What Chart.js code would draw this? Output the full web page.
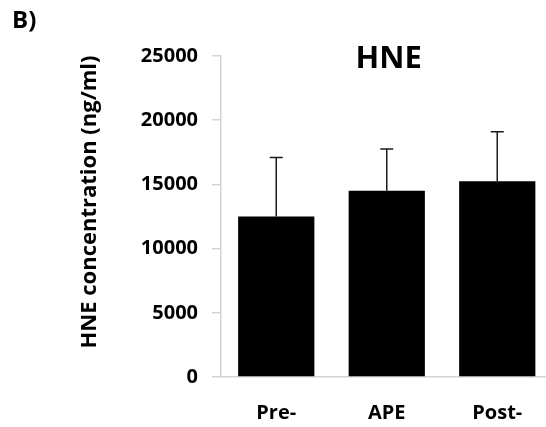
<!DOCTYPE html>
<html>
<head>
<meta charset="utf-8">
<script src="https://cdn.jsdelivr.net/npm/chart.js@4.4.1/dist/chart.umd.min.js"></script>
<style>
    html, body { margin: 0; padding: 0; background: #fff; overflow: hidden; }
    #wrap { width: 560px; height: 427px; }
</style>
</head>
<body>
<div id="wrap"><canvas id="chart" width="560" height="427"></canvas></div>
<script>
// Werte
const categories = ['Pre-', 'APE', 'Post-'];
const hneMean = [12500, 14500, 15250];
const hneSd = [4600, 3250, 3850];
const yTicks = [0, 5000, 10000, 15000, 20000, 25000];

const panelLabel = 'B)';
const chartTitle = 'HNE';
const yTitle = 'HNE concentration (ng/ml)';

const FONT = '"Open Sans", "DejaVu Sans", sans-serif';

// Fehlerbalken nur nach oben (Mittelwert + SD)
const errorBars = {
    id: 'errorBars',
    afterDatasetsDraw(chart) {
        const ctx = chart.ctx;
        const y = chart.scales.y;
        const meta = chart.getDatasetMeta(0);
        ctx.save();
        ctx.strokeStyle = '#1a1a1a';
        ctx.lineWidth = 1.5;
        meta.data.forEach((bar, i) => {
            const top = y.getPixelForValue(hneMean[i] + hneSd[i]);
            ctx.beginPath();
            ctx.moveTo(bar.x, bar.y);
            ctx.lineTo(bar.x, top);
            ctx.moveTo(bar.x - 6.5, top);
            ctx.lineTo(bar.x + 6.5, top);
            ctx.stroke();
        });
        ctx.restore();
    }
};

// Beschriftungen: Panel-Buchstabe, Titel, y-Achsentitel
const labels = {
    id: 'labels',
    afterDraw(chart) {
        const ctx = chart.ctx;
        const area = chart.chartArea;
        ctx.save();
        ctx.fillStyle = '#000';

        ctx.font = `bold 24px ${FONT}`;
        ctx.textAlign = 'left';
        ctx.textBaseline = 'alphabetic';
        ctx.fillText(panelLabel, 12, 28);

        ctx.font = `bold 31px ${FONT}`;
        ctx.textAlign = 'center';
        ctx.textBaseline = 'middle';
        ctx.fillText(chartTitle, (area.left + area.right) / 2 + 2, 59);

        ctx.translate(90, 202);
        ctx.rotate(-Math.PI / 2);
        ctx.font = `bold 22px ${FONT}`;
        ctx.fillText(yTitle, 0, 0);
        ctx.restore();
    }
};

new Chart(document.getElementById('chart'), {
    type: 'bar',
    data: {
        labels: categories,
        datasets: [{
            data: hneMean,
            backgroundColor: '#000',
            borderWidth: 0,
            categoryPercentage: 1,
            barPercentage: 0.69
        }]
    },
    options: {
        responsive: false,
        animation: false,
        devicePixelRatio: 1,
        layout: { padding: { top: 56, right: 7.5, bottom: 0, left: 0 } },
        plugins: {
            legend: { display: false },
            tooltip: { enabled: false }
        },
        scales: {
            x: {
                grid: { display: false, drawTicks: false },
                border: { display: true, color: '#d4d4d4', width: 1.5 },
                ticks: {
                    color: '#000',
                    padding: 24,
                    font: { family: FONT, size: 20, weight: 'bold' }
                },
                afterFit(scale) { scale.height = 50; }
            },
            y: {
                min: 0,
                max: 25000,
                afterBuildTicks(scale) {
                    scale.ticks = yTicks.map(v => ({ value: v }));
                },
                grid: {
                    drawOnChartArea: false,
                    drawTicks: true,
                    tickLength: 9,
                    color: '#d4d4d4',
                    lineWidth: 1.5
                },
                border: { display: true, color: '#d4d4d4', width: 1.5 },
                ticks: {
                    color: '#000',
                    padding: 14,
                    font: { family: FONT, size: 20, weight: 'bold' },
                    callback: v => String(v)
                },
                afterFit(scale) { scale.width = 221; }
            }
        }
    },
    plugins: [errorBars, labels]
});
</script>
</body>
</html>
